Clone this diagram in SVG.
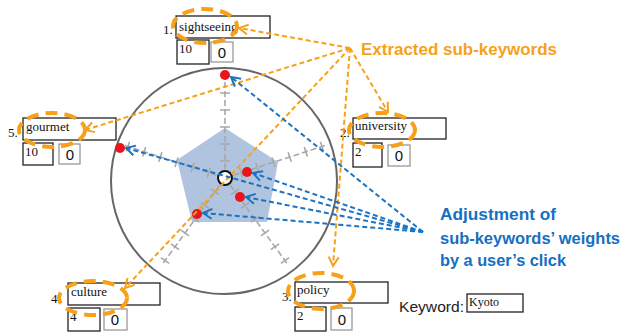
<svg xmlns="http://www.w3.org/2000/svg" xmlns:xlink="http://www.w3.org/1999/xlink" width="629" height="332" viewBox="0 0 629 332">
<style>
.box{fill:#fff;stroke:#222;stroke-width:1.3}
.gbox{fill:#fff;stroke:#999;stroke-width:1.3}
.lbl{font-family:"Liberation Serif",serif;font-size:13px;fill:#111}
.num{font-family:"Liberation Serif",serif;font-size:13px;fill:#111}
.zero{font-family:"Liberation Sans",Arial,sans-serif;font-size:15px;fill:#111;text-anchor:middle}
.ell{fill:none;stroke:#f7a11a;stroke-width:4;stroke-dasharray:12 7}
.oline{fill:none;stroke:#f7a11a;stroke-width:2;stroke-dasharray:5 3;marker-end:url(#oa)}
.bline{fill:none;stroke:#1b73c4;stroke-width:2;stroke-dasharray:5 3;marker-end:url(#ba)}
.dot{fill:#e8161b}
.otxt{font-family:"Liberation Sans",Arial,sans-serif;font-weight:bold;font-size:17px;fill:#f7a11a}
.btxt{font-family:"Liberation Sans",Arial,sans-serif;font-weight:bold;font-size:16px;fill:#1470c2}
.ax{stroke:#a8a8a8;stroke-width:1.6;fill:none}
</style>
<defs>
<marker id="oa" markerUnits="userSpaceOnUse" markerWidth="14" markerHeight="14" refX="10" refY="6" orient="auto" viewBox="0 0 14 12">
<path d="M1,1 L10,6 L1,11" fill="none" stroke="#f7a11a" stroke-width="2"/>
</marker>
<marker id="ba" markerUnits="userSpaceOnUse" markerWidth="14" markerHeight="14" refX="10" refY="6" orient="auto" viewBox="0 0 14 12">
<path d="M1,1 L10,6 L1,11" fill="none" stroke="#1b73c4" stroke-width="2"/>
</marker>
<g id="axis">
<line class="ax" x1="0" y1="0" x2="0" y2="-108" stroke-dasharray="6 3"/>
<path class="ax" d="M-5,-17H5M-5,-34H5M-5,-51H5M-5,-68H5M-5,-85H5M-5,-102H5"/>
</g>
</defs>

<g id="radar">
<circle cx="224" cy="181" r="113" fill="none" stroke="#666" stroke-width="2"/>
<polygon points="225,128 278,162 267,222 192,222 177,160" fill="#a7bddb" opacity="0.9"/>
<g transform="translate(225,178)">
<use xlink:href="#axis"/>
<use xlink:href="#axis" transform="rotate(72)"/>
<use xlink:href="#axis" transform="rotate(144)"/>
<use xlink:href="#axis" transform="rotate(216)"/>
<use xlink:href="#axis" transform="rotate(288)"/>
</g>
<circle cx="225" cy="178" r="7" fill="#fff" stroke="#111" stroke-width="2"/>
<circle class="dot" cx="225" cy="75" r="5"/>
<circle class="dot" cx="120" cy="148" r="5"/>
<circle class="dot" cx="247" cy="172" r="5"/>
<circle class="dot" cx="240" cy="197" r="5"/>
<circle class="dot" cx="197" cy="214" r="5"/>
</g>

<g id="node-sightseeing">
<text class="num" x="163" y="34">1.</text>
<rect class="box" x="176" y="16" width="94" height="22"/>
<text class="lbl" x="179" y="31">sightseeing</text>
<rect class="box" x="177" y="40" width="32" height="24"/>
<text class="num" x="179" y="53">10</text>
<rect class="gbox" x="211" y="42" width="22" height="20"/>
<text class="zero" x="222" y="58">0</text>
<ellipse class="ell" cx="205" cy="26" rx="32" ry="17"/>
</g>

<g id="node-gourmet">
<text class="num" x="8" y="137">5.</text>
<rect class="box" x="23" y="118" width="93" height="22"/>
<text class="lbl" x="26" y="131">gourmet</text>
<rect class="box" x="23" y="143" width="30" height="22"/>
<text class="num" x="25" y="156">10</text>
<rect class="gbox" x="59" y="144" width="21" height="20"/>
<text class="zero" x="70" y="160">0</text>
<ellipse class="ell" cx="52" cy="130" rx="33" ry="17"/>
</g>

<g id="node-university">
<text class="num" x="340" y="137">2.</text>
<rect class="box" x="353" y="118" width="93" height="21"/>
<text class="lbl" x="355" y="130">university</text>
<rect class="box" x="353" y="143" width="29" height="24"/>
<text class="num" x="355" y="156">2</text>
<rect class="gbox" x="388" y="145" width="22" height="21"/>
<text class="zero" x="399" y="161">0</text>
<ellipse class="ell" cx="382" cy="130" rx="33" ry="17"/>
</g>

<g id="node-culture">
<text class="num" x="51" y="303">4.</text>
<rect class="box" x="68" y="283" width="92" height="22"/>
<text class="lbl" x="71" y="296">culture</text>
<rect class="box" x="68" y="308" width="32" height="23"/>
<text class="num" x="70" y="321">4</text>
<rect class="gbox" x="104" y="309" width="23" height="21"/>
<text class="zero" x="115" y="325">0</text>
<ellipse class="ell" cx="93" cy="298" rx="34" ry="17"/>
</g>

<g id="node-policy">
<text class="num" x="282" y="301">3.</text>
<rect class="box" x="295" y="282" width="93" height="21"/>
<text class="lbl" x="297" y="294">policy</text>
<rect class="box" x="295" y="307" width="31" height="24"/>
<text class="num" x="297" y="320">2</text>
<rect class="gbox" x="331" y="308" width="21" height="22"/>
<text class="zero" x="342" y="325">0</text>
<ellipse class="ell" cx="321" cy="291" rx="33" ry="18"/>
</g>

<g id="node-keyword">
<text x="399" y="312" font-family="Liberation Sans,Arial,sans-serif" font-size="15" fill="#222" textLength="65" lengthAdjust="spacingAndGlyphs">Keyword:</text>
<rect class="box" x="467" y="294" width="56" height="18"/>
<text x="469" y="306" font-family="Liberation Serif,serif" font-size="12" fill="#111">Kyoto</text>
</g>

<g id="labels">
<text class="otxt" x="361" y="55" textLength="196" lengthAdjust="spacingAndGlyphs">Extracted sub-keywords</text>
<text class="btxt" x="440" y="220" textLength="116" lengthAdjust="spacingAndGlyphs">Adjustment of</text>
<text class="btxt" x="440" y="244" textLength="180" lengthAdjust="spacingAndGlyphs">sub-keywords’ weights</text>
<text class="btxt" x="440" y="266" textLength="126" lengthAdjust="spacingAndGlyphs">by a user’s click</text>
</g>

<g id="connectors">
<path class="oline" d="M350,48 L239,28"/>
<path class="oline" d="M350,48 L85,130"/>
<path class="oline" d="M350,48 L388,112"/>
<path class="oline" d="M350,48 L333,266"/>
<path class="oline" d="M350,48 L125,288"/>
<path class="bline" d="M423,232 L231,77"/>
<path class="bline" d="M423,232 L126,148"/>
<path class="bline" d="M423,232 L253,173"/>
<path class="bline" d="M423,232 L246,197"/>
<path class="bline" d="M423,232 L203,213"/>
</g>
</svg>
